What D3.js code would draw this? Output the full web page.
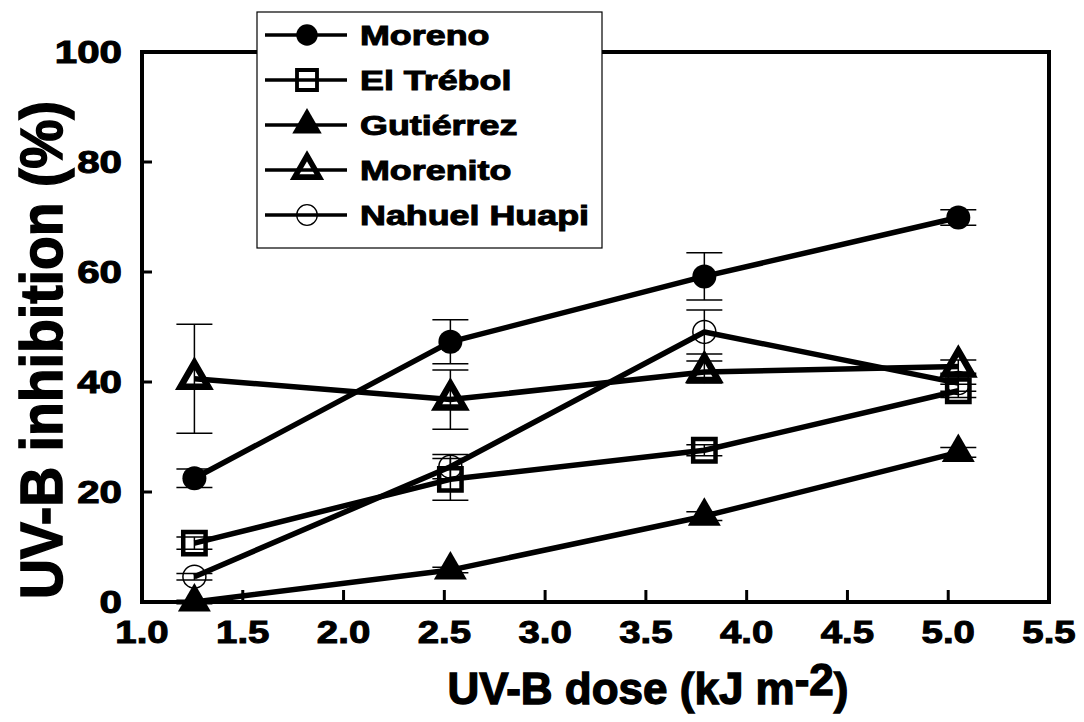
<!DOCTYPE html>
<html>
<head>
<meta charset="utf-8">
<script src="https://cdn.jsdelivr.net/npm/d3@7"></script>
<style>
  body { margin: 0; background: #fff; }
  text { font-family: "Liberation Sans", Arial, sans-serif; font-weight: bold; fill: #000; stroke: #000; stroke-width: 1; }
</style>
</head>
<body>
<svg width="1084" height="722"></svg>
<script>
// doses (kJ m-2)
var doses = [1.26, 2.53, 3.79, 5.05];

// UV-B inhibition (%) and error per site
var moreno      = [22.5, 47.3, 59.2, 69.9];
var morenoErr   = [1.7, 4.0, 4.3, 1.4];
var elTrebol    = [10.7, 22.3, 27.6, 38.4];
var elTrebolErr = [1.1, 3.8, 1.0, 1.2];
var gutierrez   = [0.0, 5.8, 15.6, 27.2];
var gutierrezErr = [0.3, 0.5, 0.8, 0.9];
var morenito    = [40.6, 36.8, 41.8, 42.8];
var morenitoErr = [9.9, 5.4, 2.0, 1.2];
var nahuel      = [4.6, 24.6, 49.1, 39.8];
var nahuelErr   = [0.6, 2.2, 4.0, 1.5];

var xTicks = [1.0, 1.5, 2.0, 2.5, 3.0, 3.5, 4.0, 4.5, 5.0, 5.5];
var yTicks = [0, 20, 40, 60, 80, 100];

var series = [
  {name: "Moreno",       vals: moreno,    err: morenoErr,    shape: d3.symbolCircle,   fill: "#000",  sw: 0},
  {name: "El Trébol",    vals: elTrebol,  err: elTrebolErr,  shape: d3.symbolSquare,   fill: "none",  sw: 4.5},
  {name: "Gutiérrez",    vals: gutierrez, err: gutierrezErr, shape: d3.symbolTriangle, fill: "#000",  sw: 0},
  {name: "Morenito",     vals: morenito,  err: morenitoErr,  shape: d3.symbolTriangle, fill: "none",  sw: 6.5},
  {name: "Nahuel Huapi", vals: nahuel,    err: nahuelErr,    shape: d3.symbolCircle,   fill: "none",  sw: 1.5}
];
var symSize = {"Moreno": 452, "El Trébol": 500, "Gutiérrez": 470, "Morenito": 330, "Nahuel Huapi": 415};

var svg = d3.select("svg");
var x = d3.scaleLinear().domain([1.0, 5.5]).range([142, 1049]);
var y = d3.scaleLinear().domain([0, 100]).range([602, 52]);

// stretch text horizontally like the scanned original
function widen(sel, k) {
  sel.each(function() {
    var w = this.getComputedTextLength();
    d3.select(this).attr("textLength", w * k).attr("lengthAdjust", "spacingAndGlyphs");
  });
}

// frame
svg.append("rect")
  .attr("x", x(1.0)).attr("y", y(100))
  .attr("width", x(5.5) - x(1.0)).attr("height", y(0) - y(100))
  .attr("fill", "none").attr("stroke", "#000").attr("stroke-width", 4);

// ticks pointing inward
svg.append("g").selectAll("line").data(xTicks.slice(1, -1)).enter().append("line")
  .attr("x1", function(d) { return x(d); }).attr("x2", function(d) { return x(d); })
  .attr("y1", y(0)).attr("y2", y(0) - 12)
  .attr("stroke", "#000").attr("stroke-width", 3);
svg.append("g").selectAll("line").data(yTicks.slice(1, -1)).enter().append("line")
  .attr("x1", x(1.0)).attr("x2", x(1.0) + 10)
  .attr("y1", function(d) { return y(d); }).attr("y2", function(d) { return y(d); })
  .attr("stroke", "#000").attr("stroke-width", 3);

// tick labels
svg.append("g").selectAll("text").data(xTicks).enter().append("text")
  .attr("x", function(d) { return x(d); }).attr("y", 643)
  .attr("text-anchor", "middle").style("font-size", "32px")
  .text(function(d) { return d.toFixed(1); })
  .call(widen, 1.2);
svg.append("g").selectAll("text").data(yTicks).enter().append("text")
  .attr("x", 122).attr("y", function(d) { return y(d) + 11; })
  .attr("text-anchor", "end").style("font-size", "31px")
  .text(function(d) { return d; })
  .call(widen, 1.3);

// axis titles
var xt = svg.append("text")
  .attr("x", 648).attr("y", 704)
  .attr("text-anchor", "middle").style("font-size", "44px").style("stroke-width", 1.3);
xt.append("tspan").text("UV-B dose (kJ m");
xt.append("tspan").attr("dy", -9).text("-2");
xt.append("tspan").attr("dy", 9).text(")");

svg.append("text")
  .attr("transform", "translate(62,350) scale(1.2,1) rotate(-90)")
  .attr("text-anchor", "middle").style("font-size", "50px").style("stroke-width", 1.3)
  .text("UV-B inhibition (%)")
  .attr("textLength", 498).attr("lengthAdjust", "spacingAndGlyphs");

// error bars
series.forEach(function(s) {
  var g = svg.append("g").attr("stroke", "#000").attr("stroke-width", 1.5);
  doses.forEach(function(d, i) {
    var cx = x(d), lo = y(s.vals[i] - s.err[i]), hi = y(s.vals[i] + s.err[i]);
    g.append("line").attr("x1", cx).attr("x2", cx).attr("y1", lo).attr("y2", hi);
    g.append("line").attr("x1", cx - 18).attr("x2", cx + 18).attr("y1", lo).attr("y2", lo);
    g.append("line").attr("x1", cx - 18).attr("x2", cx + 18).attr("y1", hi).attr("y2", hi);
  });
});

// lines
var line = d3.line()
  .x(function(d, i) { return x(doses[i]); })
  .y(function(d) { return y(d); });
series.forEach(function(s) {
  svg.append("path").datum(s.vals)
    .attr("d", line)
    .attr("fill", "none").attr("stroke", "#000").attr("stroke-width", 5.5)
    .attr("stroke-linejoin", "round");
});

// markers
series.forEach(function(s) {
  var sym = d3.symbol().type(s.shape).size(symSize[s.name]);
  svg.append("g").selectAll("path").data(s.vals).enter().append("path")
    .attr("d", sym)
    .attr("transform", function(d, i) { return "translate(" + x(doses[i]) + "," + y(d) + ")"; })
    .attr("fill", s.fill).attr("stroke", "#000").attr("stroke-width", s.sw)
    .attr("stroke-linejoin", "miter");
});

// legend
var leg = svg.append("g");
leg.append("rect")
  .attr("x", 257).attr("y", 12).attr("width", 345).attr("height", 236)
  .attr("fill", "#fff").attr("stroke", "#000").attr("stroke-width", 1.2);
series.forEach(function(s, i) {
  var ly = 35 + i * 45;
  leg.append("line").attr("x1", 265).attr("x2", 347).attr("y1", ly).attr("y2", ly)
    .attr("stroke", "#000").attr("stroke-width", 3.5);
  leg.append("path")
    .attr("d", d3.symbol().type(s.shape).size(symSize[s.name] * 0.8))
    .attr("transform", "translate(307," + ly + ")")
    .attr("fill", s.fill).attr("stroke", "#000").attr("stroke-width", s.sw * 0.85);
  leg.append("text").attr("x", 360).attr("y", ly + 10)
    .style("font-size", "28px").text(s.name)
    .call(widen, 1.28);
});
</script>
</body>
</html>
